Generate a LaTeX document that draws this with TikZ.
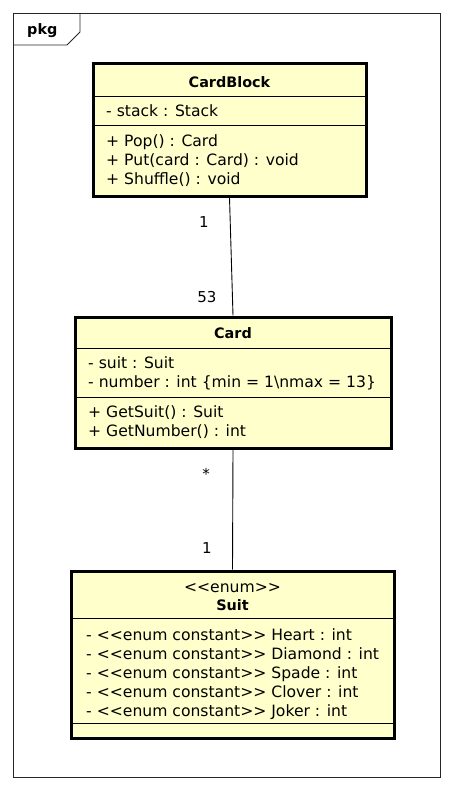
\documentclass[tikz,border=0pt]{standalone}
\usepackage{fontspec}
\setmainfont{DejaVu Sans}
\definecolor{umlfill}{RGB}{255,255,204}
\tikzset{
  umlbox/.style={draw=black, line width=3pt, fill=umlfill, inner sep=0pt},
  sepline/.style={draw=black, line width=0.9pt},
  txt/.style={anchor=base west, inner sep=0pt, font=\fontsize{15.6}{18}\selectfont},
  ttl/.style={anchor=base, inner sep=0pt, font=\fontsize{14.4}{17}\selectfont\bfseries},
  stereo/.style={anchor=base, inner sep=0pt, font=\fontsize{15.6}{18}\selectfont},
  mult/.style={anchor=base, inner sep=0pt, font=\fontsize{15}{18}\selectfont},
  assoc/.style={draw=black, line width=0.9pt},
  frameline/.style={draw=black!85, line width=0.9pt}
}
\begin{document}
\begin{tikzpicture}[x=1pt,y=-1pt]
\useasboundingbox (0,0) rectangle (453,792);
% package frame
\draw[frameline] (13,13) rectangle (440,777);
\draw[frameline] (13,45) -- (67,45) -- (80,32) -- (80,13);
\node[anchor=base west, inner sep=0pt, font=\fontsize{14.4}{17}\selectfont\bfseries] (pkg) at (27,35) {pkg};

% CardBlock
\node[umlbox, minimum width=273pt, minimum height=132pt] (cb) at (229.5,130) {};
\draw[sepline] (93,96) -- (366,96);
\draw[sepline] (93,125) -- (366,125);
\node[ttl] (cbt) at (229.5,87) {CardBlock};
\node[txt] (cb1) at (106,116) {- stack : Stack};
\node[txt] (cb2) at (106,146) {+ Pop() : Card};
\node[txt] (cb3) at (106,165) {+ Put(card : Card) : void};
\node[txt] (cb4) at (106,184) {+ Shuffle() : void};

% Card
\node[umlbox, minimum width=316pt, minimum height=131pt] (card) at (233,382.5) {};
\draw[sepline] (75,348) -- (391,348);
\draw[sepline] (75,397) -- (391,397);
\node[ttl] (cardt) at (233,338) {Card};
\node[txt] (c1) at (88,368) {- suit : Suit};
\node[txt] (c2) at (88,387) {- number : int \{min = 1\textbackslash nmax = 13\}};
\node[txt] (c3) at (88,417) {+ GetSuit() : Suit};
\node[txt] (c4) at (88,436) {+ GetNumber() : int};

% Suit
\node[umlbox, minimum width=323pt, minimum height=167pt] (suit) at (232.5,654.5) {};
\draw[sepline] (71,618) -- (394,618);
\draw[sepline] (71,723) -- (394,723);
\node[stereo] (st) at (232.5,592) {<{}<enum>{}>};
\node[ttl] (suitt) at (232.5,610) {Suit};
\node[txt] (s1) at (86,640) {- <{}<enum constant>{}> Heart : int};
\node[txt] (s2) at (86,659) {- <{}<enum constant>{}> Diamond : int};
\node[txt] (s3) at (86,678) {- <{}<enum constant>{}> Spade : int};
\node[txt] (s4) at (86,697) {- <{}<enum constant>{}> Clover : int};
\node[txt] (s5) at (86,716) {- <{}<enum constant>{}> Joker : int};

% associations
\draw[assoc] (cb.south) -- (card.north);
\draw[assoc] (card.south) -- (suit.north);
\node[mult] (m1) at (204,227) {1};
\node[mult] (m2) at (207,302) {53};
\node[mult] (m3) at (206,479) {*};
\node[mult] (m4) at (207,553) {1};
\end{tikzpicture}
\end{document}
